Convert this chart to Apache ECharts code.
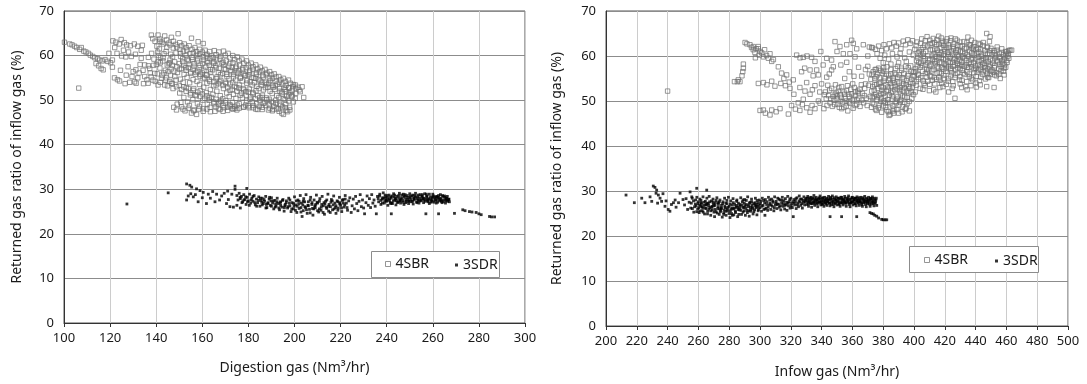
<!DOCTYPE html>
<html><head><meta charset="utf-8">
<script src="https://cdn.jsdelivr.net/npm/echarts@6/dist/echarts.min.js"></script>
<style>html,body{margin:0;padding:0;background:#fff}#c{width:1087px;height:384px}</style>
</head><body><div id="c"></div>
<script>
// ---- data ----
const seriesNames = ['4SBR', '3SDR'];
const leftXTitle = 'Digestion gas (Nm³/hr)';
const rightXTitle = 'Infow gas (Nm³/hr)';
const yTitle = 'Returned gas ratio of inflow gas (%)';
const leftXTicks = [100, 300, 20];
const rightXTicks = [200, 500, 20];
const yTicks = [0, 70, 10];

const sbrDigestion = [
[100.2,63.0],[102.5,62.6],[103.5,62.4],[104.6,62.1],[105.5,61.8],[106.8,61.4],[107.5,61.8],[108.6,61.0],[109.5,60.8],[110.6,60.5],[111.4,60.1],[112.5,59.8],[113.4,59.5],[114.6,59.3],[115.5,59.0],[116.6,58.8],[117.8,59.1],[118.9,58.7],[120.2,58.4],[121.0,59.0],[113.9,58.2],[115.0,57.7],[116.1,57.1],[117.0,56.8],[121.9,55.0],[123.2,54.6],[124.1,54.3],[106.4,52.7],
[121.2,63.3],[122.5,63.0],[124.8,63.6],[124.0,62.6],[126.2,62.9],[127.2,62.4],[128.8,62.2],[130.5,62.6],[132.0,62.1],[134.0,62.3],[123.0,60.5],[125.0,59.9],[126.8,59.7],[129.2,59.8],[127.8,57.5],[130.0,56.4],[131.2,56.8],[132.6,56.1],[130.6,54.1],[131.3,53.8],[133.5,61.2],[133.5,59.4],[135.0,57.9],[135.0,55.3],[136.5,53.8],[137.2,57.1],[138.6,54.5],[139.4,56.0],[140.8,58.6],[140.8,53.4],[142.3,54.9],[143.7,53.4],[145.2,56.4],[146.6,53.8],[148.1,55.3],[136.6,59.6],[136.6,57.7],[137.4,56.1],[139.6,54.2],[141.8,58.4],[142.6,55.6],[144.0,56.7],[144.0,54.5],[147.0,53.7],[148.6,54.5],[138.0,60.5],[139.0,59.2],[141.0,60.0],[143.0,59.5],[145.5,58.2],[146.5,57.0],[134.5,53.7],[128.5,54.0],[126.5,53.7],
[119.5,60.5],[122.0,61.8],[125.8,61.2],[128.0,60.8],[131.0,60.3],[133.0,58.0],[134.3,56.7],[129.5,55.3],[132.0,55.0],[136.0,54.6],[137.8,55.2],[138.8,57.8],[127.0,55.6],[124.5,56.7],[121.0,57.4],
[137.9,64.6],[138.5,63.8],[139.5,63.2],[140.8,64.6],[141.5,63.7],[142.5,63.0],[143.7,64.4],[144.5,63.5],[145.5,62.8],[146.6,64.1],[147.5,63.2],[148.5,62.5],[149.5,64.9],[150.2,62.9],[151.0,62.2],[152.2,62.6],[153.0,61.8],[154.3,62.2],[155.3,63.9],[155.5,61.4],[156.8,61.8],[157.5,60.9],[158.2,63.1],[158.8,61.4],[160.0,60.8],[160.4,62.7],[161.2,61.2],[162.0,60.3],[163.2,60.9],[164.0,59.9],[165.2,61.1],[166.0,60.2],[167.2,60.8],[168.0,59.8],[169.2,61.0],[170.0,60.1],[171.2,60.5],[172.0,59.5],[173.2,60.0],[174.0,59.1],[175.2,59.7],[176.0,58.8],[177.2,59.2],[178.0,58.3],[179.2,58.8],[180.0,57.9],[181.2,58.3],[182.0,57.5],[183.2,57.9],[184.0,57.0],[185.2,57.4],[186.0,56.6],[187.2,56.9],[188.0,56.1],[189.2,56.4],[190.0,55.7],[191.2,55.9],[192.0,55.2],[193.2,55.3],[194.0,54.6],[195.2,54.9],[196.0,54.2],[197.4,54.5],[198.2,53.8],[199.5,53.5],[200.4,53.4],[201.5,52.9],[203.3,53.0],[204.0,50.6],[197.4,52.7],[198.8,50.8],[195.9,50.1],[202.0,52.3],
[150.5,60.5],[151.5,59.3],[153.0,60.0],[154.0,58.8],[155.5,59.6],[156.5,58.2],[158.0,59.3],[159.0,57.8],[160.5,59.0],[161.5,57.4],[162.5,58.4],[163.5,56.9],[165.0,58.6],[166.0,57.3],[167.0,56.2],[168.5,58.3],[169.5,57.0],[170.5,55.8],[171.5,57.6],[172.5,56.4],[173.5,55.2],[174.5,57.2],[175.5,56.0],[176.5,54.9],[177.5,56.8],[178.5,55.6],[179.5,54.4],[180.5,56.3],[181.5,55.1],[182.5,53.9],[183.5,55.8],[184.5,54.6],[185.5,53.4],[186.5,55.2],[187.5,54.0],[188.5,52.9],[189.5,54.4],[190.5,53.3],[191.5,52.4],[192.5,53.6],[193.5,52.6],[194.5,51.8],[195.5,52.9],[196.5,51.9],[197.5,51.2],[199.0,52.2],[200.5,51.5],
[146.0,59.0],[147.0,57.8],[148.0,58.6],[149.0,57.5],[150.0,58.2],[151.0,57.1],[152.0,57.8],[153.0,56.7],[154.0,57.3],[155.0,56.3],[156.0,56.9],[157.0,55.8],[158.0,56.5],[159.0,55.4],[160.0,56.1],[161.0,55.0],[162.0,55.7],[163.0,54.6],[164.0,55.2],[165.0,54.1],[166.0,54.8],[167.0,53.7],[168.0,54.4],[169.0,53.3],[170.0,54.0],[171.0,52.9],[172.0,53.6],[173.0,52.4],[174.0,53.1],[175.0,52.0],[176.0,52.7],[177.0,51.6],[178.0,52.3],[179.0,51.1],[180.0,51.8],[181.0,50.7],[182.0,51.4],[183.0,50.3],[184.0,51.0],[185.0,49.9],[186.0,50.6],[187.0,49.4],[188.0,50.1],[189.0,49.0],[190.0,49.7],[191.0,48.6],[192.0,49.3],[193.0,48.1],[194.0,48.8],[195.2,46.8],[194.5,47.1],[196.0,48.3],[197.0,47.4],[198.0,47.8],[188.7,47.8],[190.5,47.9],
[150.0,53.3],[151.0,52.4],[152.0,53.0],[153.0,52.0],[154.0,52.6],[155.0,51.6],[156.0,52.2],[157.0,51.2],[158.0,51.8],[159.0,50.8],[160.0,51.4],[161.0,50.4],[162.0,51.0],[163.0,50.0],[164.0,50.6],[165.0,49.6],[166.0,50.2],[167.0,49.2],[168.0,49.8],[169.0,48.8],[170.0,49.4],[171.0,48.4],[172.0,49.0],[173.0,48.1],[174.0,48.6],[175.0,47.8],[176.0,48.2],[178.0,48.5],[148.8,47.8],[151.0,48.5],[152.5,47.6],[154.0,48.2],[155.3,47.1],[156.5,47.8],[157.5,46.8],[158.5,48.0],[160.4,47.5],[162.0,48.0],[163.5,47.4],[165.5,47.5],[167.0,48.1],[169.0,47.5],[171.0,47.7],[174.2,48.2],[180.0,48.7],[182.0,48.3],[184.0,47.9],[186.0,48.4]
];
const sbrDigestionCore = [
[140.3,62.1],[140.6,60.8],[140.1,58.0],[140.5,55.9],[141.7,63.2],[141.4,61.5],[141.9,59.6],[141.6,57.2],[141.8,54.0],[143.1,62.6],[143.4,60.4],[142.9,58.8],[143.3,56.1],[144.6,61.9],[144.3,60.9],[144.8,57.9],[144.5,55.0],[144.9,53.2],[146.0,62.4],[146.3,60.3],[145.8,58.4],[146.2,55.6],[145.9,54.2],[147.4,61.7],[147.1,59.7],[147.7,56.5],[147.3,52.6],[147.6,48.4],[148.9,61.9],[148.6,60.6],[149.2,56.2],[148.8,53.0],[149.1,49.1],
[150.3,61.4],[150.6,59.8],[150.1,56.9],[150.5,54.7],[150.2,51.6],[150.7,49.5],[151.8,61.0],[151.5,58.6],[152.1,55.8],[151.7,54.0],[152.0,50.6],[151.6,48.0],[153.2,61.2],[153.5,59.2],[152.9,57.3],[153.4,55.1],[153.1,52.8],[153.6,49.6],[154.6,60.4],[154.3,58.0],[154.9,56.0],[154.5,53.9],[154.8,51.2],[154.4,48.8],
[156.1,60.6],[155.8,59.1],[156.4,57.6],[156.0,54.6],[156.3,52.6],[155.9,50.1],[156.2,47.6],[157.5,60.1],[157.8,58.8],[157.3,56.2],[157.7,54.2],[157.4,51.0],[157.9,49.2],[158.9,60.3],[158.6,57.3],[159.2,55.8],[158.8,53.5],[159.1,52.1],[158.7,48.6],
[160.4,59.7],[160.1,58.2],[160.7,56.7],[160.3,54.8],[160.6,52.9],[160.2,50.0],[160.5,48.1],[161.8,59.9],[162.1,58.7],[161.6,55.6],[162.0,53.8],[161.7,51.7],[162.2,49.1],[163.3,59.3],[163.0,57.8],[163.6,56.3],[163.2,54.2],[163.5,52.4],[163.1,50.6],[163.4,48.4],
[164.7,59.5],[165.0,58.3],[164.5,56.8],[164.9,53.2],[164.6,51.3],[165.1,49.2],[166.1,59.0],[165.8,57.7],[166.4,55.2],[166.0,53.4],[166.3,52.0],[165.9,48.5],[167.6,59.2],[167.3,57.1],[167.9,55.7],[167.5,54.1],[167.8,51.0],[167.4,49.6],[167.7,47.9],
[169.0,58.5],[169.3,57.9],[168.8,56.0],[169.2,52.6],[168.9,50.3],[169.4,48.3],[170.4,58.8],[170.1,56.9],[170.7,55.3],[170.3,53.7],[170.6,51.6],[170.2,49.9],[171.9,58.2],[172.2,56.7],[171.6,54.8],[172.0,52.2],[171.7,50.8],[172.1,48.7],
[173.3,58.4],[173.0,57.3],[173.6,55.8],[173.2,53.9],[173.5,51.3],[173.1,49.5],[173.4,48.0],[174.7,57.6],[175.0,56.3],[174.5,54.5],[174.9,52.8],[174.6,50.4],[175.1,48.9],[176.2,57.9],[175.9,56.6],[176.5,55.2],[176.1,53.4],[176.4,51.1],[176.0,49.2],
[177.6,57.2],[177.9,55.9],[177.3,54.3],[177.7,52.6],[177.4,50.5],[177.8,48.4],[179.0,57.3],[178.7,55.5],[179.3,53.8],[178.9,51.9],[179.2,49.8],[178.8,48.9],[180.5,56.6],[180.2,55.7],[180.8,54.1],[180.4,52.5],[180.7,50.2],[180.3,48.3],
[181.9,56.9],[182.2,55.0],[181.6,53.4],[182.0,51.7],[181.7,49.6],[182.1,48.8],[183.4,56.2],[183.1,54.9],[183.7,53.1],[183.3,52.1],[183.6,49.2],[183.2,48.0],[184.8,56.3],[185.1,54.3],[184.6,52.6],[185.0,50.6],[184.7,48.6],
[186.2,55.6],[185.9,54.0],[186.5,52.3],[186.1,51.1],[186.4,49.3],[186.0,47.9],[187.7,55.7],[188.0,53.5],[187.4,52.8],[187.8,50.5],[187.5,48.8],[189.1,55.0],[188.8,53.8],[189.4,52.0],[189.0,50.2],[189.3,48.2],
[190.5,54.9],[190.8,52.9],[190.3,51.5],[190.7,49.4],[190.4,47.6],[192.0,54.3],[191.7,53.2],[192.3,51.0],[191.9,50.0],[192.2,48.0],[193.4,54.0],[193.7,52.0],[193.2,50.6],[193.6,49.1],[193.3,47.5],
[194.9,53.6],[194.6,51.4],[195.2,50.3],[194.8,48.5],[196.3,53.3],[196.0,52.4],[196.6,50.9],[196.2,49.0],[196.5,47.7],[197.7,52.8],[198.0,51.6],[197.5,49.8],[197.9,48.4],[199.2,53.0],[198.9,51.0],[199.5,49.6],[200.6,52.6],[200.3,50.4],[202.5,51.9]
];

const sdrDigestion = [
[127.3,26.7],[145.2,29.2],[153.2,31.2],[154.6,30.9],[155.4,30.5],[157.5,30.1],[159.0,29.7],[160.4,29.3],[162.6,28.9],[153.9,28.5],[153.2,27.6],[156.1,28.3],[158.2,27.2],[161.8,26.8],[165.5,27.2],[174.2,30.7],[179.3,30.2],[174.2,30.0],[166.2,28.9],[168.4,28.5],[171.3,27.7],[173.5,26.0],[172.0,26.1],[155.0,29.0],[157.0,28.8],[160.0,28.1],[163.5,28.0],[164.5,29.5],[167.5,27.6],[169.5,29.1],[170.5,26.8],[172.8,28.9],[175.0,26.4],[176.5,25.8],[171.0,29.6],
[175,28.6],[175.5,27.6],[176,29.1],[176.5,27.9],[177,28.4],[177.5,27.2],[178,28.8],[178.5,27.7],[179,26.6],[179.5,28.2],[180,27.4],[180.5,28.9],[181,26.9],[181.5,28.0],[182,27.3],[182.5,28.6],[183,26.5],[183.5,27.8],[184,27.0],[184.5,28.3],[185,26.2],[185.5,27.5],[186,28.0],[186.5,26.8],[187,27.3],[187.5,28.4],[188,25.9],[188.5,27.0],[189,27.8],[189.5,26.4],[190,28.1],[190.5,26.9],[191,25.6],[191.5,27.5],[192,26.2],[192.5,28.0],[193,26.8],[193.5,25.4],[194,27.2],[194.5,26.0],[195,27.7],[195.5,25.1],[196,26.6],[196.5,27.4],[197,25.8],[197.5,28.0],[198,26.3],[198.5,25.0],[199,27.0],[199.5,25.6],
[200,28.3],[200.5,26.5],[201,24.8],[201.5,27.6],[202,25.7],[202.5,28.6],[203,26.9],[203.3,23.9],[203.8,25.2],[204,27.9],[204.5,26.1],[205,28.8],[205.5,24.6],[206,27.2],[206.5,25.5],[207,28.2],[207.5,26.6],[208,24.2],[208.5,27.6],[209,25.9],[209.5,28.7],[210,26.9],[210.5,24.9],[211,27.9],[211.5,25.3],[212,28.4],[212.5,26.3],[213,24.4],[213.5,27.3],[214,25.7],[214.5,28.9],[215,26.6],[215.5,24.8],[216,27.7],[216.5,25.4],[217,28.5],[217.5,26.9],[218,24.6],[218.5,27.4],[219,25.8],[219.5,28.2],[220,26.4],[220.5,25.0],[221,27.7],[221.5,26.0],[222,28.6],[222.5,26.9],[223,25.3],[223.5,27.4],[224,28.1],
[185.8,27.1],[187.8,26.6],[189.8,27.4],[191.8,26.7],[193.8,27.0],[195.8,26.3],[197.8,26.9],[199.8,26.2],[201.8,26.7],[203.8,27.3],[205.8,26.4],[207.8,25.7],[209.8,27.1],[211.8,26.6],[213.8,26.0],[215.8,27.1],[217.8,25.9],[219.8,27.0],[221.8,26.5],[204.8,25.9],[206.8,27.6],[208.8,26.3],[210.8,25.6],[212.8,27.0],[214.8,26.2],[216.8,26.5],[218.8,25.3],[220.8,27.5],[202.8,25.9],[200.8,27.4],
[224.6,24.8],[225,26.3],[225.5,27.8],[226,25.6],[226.5,28.4],[227,26.8],[227.5,25.2],[228,27.3],[228.5,28.8],[229,26.1],[229.5,27.6],[230,25.8],[230.4,24.5],[231,27.0],[231.5,28.5],[232,26.4],[232.5,27.9],[233,25.9],[233.5,28.8],[234,26.9],[234.5,27.6],[235,26.2],[235.5,24.5],[236,28.4],
[236.5,27.2],[237,28.9],[237.5,26.6],[238,27.8],[238.5,29.2],[239,26.9],[239.5,28.3],[240,27.5],[240.5,26.4],[241,28.7],[241.5,27.1],[242,24.5],[242,28.0],[242.5,26.8],[243,29.0],[243.5,27.6],[244,26.5],[244.5,28.4],[245,27.2],[245.5,29.1],[246,26.9],[246.5,28.1],[247,27.5],[247.5,26.6],[248,28.8],[248.5,27.3],[249,28.2],[249.5,26.8],[250,29.0],[250.5,27.7],[251,28.5],[251.5,26.7],[252,27.9],[252.5,29.1],[253,27.2],[253.5,28.3],[254,26.9],[254.5,28.8],[255,27.6],[255.5,28.2],[256,27.0],[256.5,29.0],[257,24.5],[257,27.8],[257.5,28.5],[258,27.2],[258.5,26.8],[259,28.3],[259.5,27.6],[260,28.9],[260.5,27.1],[261,28.1],[261.5,26.9],[262,27.7],[262.5,24.5],[262.5,28.6],[263,27.4],[263.5,28.0],[264,27.0],[264.5,28.4],[265,27.6],[265.5,26.9],[266,28.0],[266.5,27.3],[267,27.8],[267.2,27.2],
[238.2,28.1],[239.2,27.4],[240.2,28.6],[241.2,27.8],[242.2,26.9],[243.2,28.3],[244.2,27.4],[245.2,28.6],[246.2,27.8],[247.2,28.9],[248.2,27.0],[249.2,27.8],[250.2,28.4],[251.2,27.3],[252.2,28.6],[253.2,27.9],[254.2,27.4],[255.2,28.5],[256.2,27.6],[257.2,28.9],[258.2,27.9],[259.2,27.1],[260.2,28.3],[261.2,27.5],[262.2,28.2],[263.2,27.7],[264.2,28.6],[265.2,28.2],[266.2,27.6],[239.7,27.9],[241.7,28.3],[243.7,27.9],[245.7,27.5],[247.7,28.2],[249.7,27.4],[251.7,28.0],[253.7,27.6],[255.7,27.9],[257.7,27.4],[259.7,28.1],[261.7,28.4],[263.7,27.3],[265.7,27.9],
[269.4,24.6],[273,25.4],[274,25.2],[275.9,25.0],[277,24.9],[278.8,24.8],[280,24.5],[281,24.3],[284.6,23.9],[285.5,23.8],[286.8,23.8]
];
const sdrDigestionCore = [
[176.4,28.2],[177.2,27.0],[178.0,27.6],[178.8,28.3],[179.6,27.2],[180.4,26.4],[181.2,27.6],[182.0,28.4],[182.8,27.0],[183.6,26.2],[184.4,27.5],[185.2,28.0],[186.0,26.5],[186.8,27.7],[187.6,25.8],[188.4,26.8],[189.2,28.2],[190.0,26.2],[190.8,27.4],[191.6,26.0],[192.4,27.2],[193.2,25.8],[194.0,26.4],[194.8,27.5],[195.6,25.9],[196.4,27.0],[197.2,26.1],[198.0,27.6],[198.8,25.6],[199.6,26.8],[200.4,25.3],[201.2,26.2],[202.0,27.3],[202.8,24.9],[203.6,26.5],[204.4,27.2],[205.2,25.4],[206.0,26.3],[206.8,24.7],[207.6,27.0],[208.4,25.6],[209.2,26.6],[210.0,25.2],[210.8,27.3],[211.6,26.0],[212.4,24.8],[213.2,26.7],[214.0,27.6],[214.8,25.1],[215.6,26.1],[216.4,27.4],[217.2,25.6],[218.0,26.3],[218.8,27.2],[219.6,26.7],[220.4,25.8],[221.2,26.9],[222.0,27.8],[222.8,25.9],
[236.3,27.9],[236.9,28.5],[237.5,27.5],[238.1,26.9],[238.7,28.0],[239.3,28.7],[239.9,27.3],[240.5,28.1],[241.1,27.5],[241.7,26.8],[242.3,28.5],[242.9,27.4],[243.5,28.7],[244.1,27.9],[244.7,27.0],[245.3,28.0],[245.9,27.4],[246.5,28.7],[247.1,27.1],[247.7,28.5],[248.3,27.7],[248.9,28.6],[249.5,27.3],[250.1,28.1],[250.7,27.2],[251.3,28.7],[251.9,27.6],[252.5,28.3],[253.1,27.0],[253.7,28.7],[254.3,28.0],[254.9,27.4],[255.5,28.8],[256.1,28.0],[256.7,27.3],[257.3,28.3],[257.9,27.7],[258.5,28.9],[259.1,27.7],[259.7,27.3],[260.3,28.5],[260.9,27.7],[261.5,28.3],[262.1,27.1],[262.7,28.0],[263.3,28.8],[263.9,27.6],[264.5,27.2],[265.1,28.5],[265.7,27.4],[266.3,28.4],[266.9,27.7]
];

const sbrInflow = [
[240,52.2],
[285.3,54.3],[287.0,54.3],[283.4,54.3],[285.9,54.7],[288.3,55.6],[288.8,56.5],[289.2,57.3],[289.2,58.2],[290.3,63.0],[291.5,62.7],[293.5,62.5],[294.5,61.9],[295.6,62.1],[296.7,60.8],[297.5,61.6],[298.9,62.1],[300.0,61.0],[301.1,60.7],[302.2,59.8],[303.0,61.4],[304.3,60.1],[305.4,59.5],[306.5,60.5],[307.6,58.8],[308.7,59.2],[295.6,61.4],[298.9,61.6],[299.5,60.2],[297.0,59.6],[298.9,53.9],[302.2,54.1],[304.5,53.6],[307.6,54.4],[309.7,53.3],[300.0,47.9],[302.2,48.0],[303.5,47.3],[306.5,46.9],[307.6,48.0],[310.5,47.6],[313.0,48.3],[318.4,47.1],
[311.9,57.6],[314.0,56.2],[315.5,55.0],[317.3,55.8],[319.0,54.2],[321.6,54.7],[323.8,60.2],[326.0,59.6],[328.1,59.7],[330.5,60.0],[333.5,59.7],[327.0,56.5],[329.0,57.3],[332.5,56.9],[334.5,55.6],[335.7,58.8],[336.8,56.9],[337.9,55.8],[330.3,54.1],[335.7,53.4],[325.9,53.0],[329.2,52.2],[332.5,51.5],[324.8,49.6],[328.1,50.4],[330.3,48.5],[325.9,47.9],[332.5,47.5],[335.7,48.3],[337.9,50.0],[322.0,51.5],[319.5,52.8],[316.5,53.4],[313.5,53.9],[320.5,49.0],[323.0,48.2],[327.5,49.2],[333.8,49.0],[334.0,52.5],[338.8,52.0],
[343.3,59.5],[346.5,59.1],[348.7,63.2],[351.9,62.1],[356.3,62.5],[359.5,63.5],[360.6,62.8],[354.1,60.5],[358.4,60.5],[361.7,59.8],[362.8,61.6],[367.1,62.5],[356.3,58.6],[347.6,57.6],[346.5,56.9],[343.3,55.3],[345.0,56.0],[341.0,58.0],[339.5,61.0],[350.0,61.0],[352.5,58.0],[355.0,55.0],[358.0,56.5],[361.0,55.5],[364.0,57.5],[366.0,55.5],[368.5,57.0],[370.0,60.0],[372.5,61.9],[340.0,53.8],[342.5,52.0],[339.0,49.5],[341.5,48.3],[343.0,50.5],
[344.5,51.2],[345.5,49.6],[346.5,52.8],[347.6,51.0],[348.5,49.2],[349.0,53.6],[350.0,50.5],[350.8,52.2],[351.5,48.6],[352.2,51.4],[353.0,53.2],[353.8,49.8],[354.5,52.0],[355.2,50.6],[356.0,48.9],[356.8,53.4],[357.5,51.5],[358.2,49.5],[359.0,52.6],[359.8,50.2],[360.5,48.4],[361.2,53.0],[362.0,51.2],[362.8,49.3],[363.5,52.2],[364.2,50.6],[365.0,48.8],[365.8,53.6],[366.5,51.7],[367.3,49.6],[368.0,52.8],[346.0,50.5],[348.0,50.2],[352.0,50.0],[355.0,51.5],[358.0,51.0],[361.0,50.4],[364.0,51.8],[349.5,51.8],[353.0,48.3],[357.0,47.8],[369.0,50.6],[370.5,53.5],[371.5,51.0],
[341.8,51.4],[343.5,49.0],[345.2,52.4],[347.0,48.8],[348.8,51.5],[350.5,49.3],[351.2,53.0],[352.8,50.8],[354.5,48.6],[356.2,52.3],[357.8,49.8],[359.5,51.6],[360.2,53.8],[361.8,49.0],[363.0,50.2],[364.8,52.6],[366.2,50.2],[367.8,51.2],[369.6,49.0],[344.0,53.5],[350.0,51.2],[356.0,50.0],[362.0,52.0],[368.5,53.8],
[372.0,54.8],[372.5,52.2],[373.0,49.6],[373.5,56.5],[374.0,51.0],[374.5,53.6],[375.0,48.2],[375.5,55.4],[376.0,50.3],[376.5,52.8],[377.0,57.3],[377.5,49.1],[378.0,54.1],[378.5,51.6],[379.0,47.5],[379.5,56.2],[380.0,53.0],[380.5,50.0],[381.0,55.0],[381.5,48.6],[382.0,52.2],[382.5,57.6],[383.0,49.7],[383.5,54.6],[384.0,51.3],[384.5,47.0],[385.0,56.0],[385.5,53.3],[386.0,50.4],[386.5,55.1],[387.0,48.2],[387.5,52.5],[388.0,57.2],[388.5,49.6],[389.0,54.3],[389.5,51.0],[390.0,47.3],[390.5,55.8],[391.0,53.0],[391.5,50.2],[392.0,56.8],[392.5,48.7],[393.0,52.2],[393.5,54.9],[394.0,50.9],[394.5,57.7],[395.0,53.6],[395.5,49.4],[396.0,55.6],[396.5,51.8],[397.0,47.8],[397.5,54.2],[398.0,56.6],[398.5,50.6],[399.0,53.1],[399.5,55.4],[373.2,53.2],[375.2,51.5],[377.2,53.9],[379.2,52.4],[381.2,51.0],[383.2,53.1],[385.2,51.8],[387.2,54.0],[389.2,52.7],[391.2,51.6],[393.2,53.8],[395.2,52.2],[397.2,52.8],[376.3,55.8],[380.3,56.6],[384.3,55.0],[388.3,55.9],[392.3,55.2],[396.3,57.4],[378.3,49.9],[382.3,48.0],[386.3,48.9],[390.3,49.1],[394.3,48.2],[374.8,57.0],[371.0,56.0],[370.0,57.7],[383.8,46.8],[386.8,47.3],
[372.7,55.9],[372.9,50.8],[372.4,48.6],[374.2,52.4],[374.5,55.0],[374.0,49.3],[375.7,53.7],[375.4,57.0],[375.9,50.9],[375.6,47.9],[377.2,51.2],[377.5,55.2],[376.9,48.5],[378.7,53.2],[378.4,56.8],[378.9,50.6],[380.2,51.7],[380.5,54.4],[379.9,48.9],[380.3,57.4],[381.7,53.6],[381.4,49.6],[382.0,56.0],[383.2,52.4],[383.5,55.7],[382.9,50.3],[383.3,47.6],[384.7,53.9],[384.4,49.4],[384.9,57.0],[386.2,52.1],[386.5,54.6],[385.9,51.0],[386.3,47.8],[387.7,53.2],[387.4,56.2],[387.9,49.9],[389.2,50.4],[389.5,55.3],[388.9,48.1],[389.3,57.7],[390.7,52.3],[390.4,54.0],[390.9,49.8],[392.2,53.5],[392.5,51.1],[391.9,57.3],[392.3,47.6],[393.7,52.9],[393.4,56.1],[393.9,49.7],[395.2,54.5],[395.5,50.8],[394.9,48.4],[396.7,53.2],[396.4,56.0],[396.9,49.9],[398.2,52.0],[398.5,54.8],[397.9,57.8],[399.7,51.4],[399.4,53.9],[399.8,56.5],
[371.0,62.0],[373.0,61.8],[375.0,61.5],[377.0,62.2],[379.0,61.2],[380.5,62.5],[382.0,61.6],[384.0,62.7],[385.5,61.8],[387.0,63.0],[388.5,62.2],[390.0,62.9],[391.5,61.6],[393.0,63.3],[394.5,62.5],[396.0,63.6],[397.5,62.8],[399.0,63.4],[376.0,60.5],[378.0,59.5],[381.0,60.2],[383.5,59.3],[386.0,60.5],[389.0,59.8],[391.0,60.6],[394.0,59.6],[397.0,60.9],[399.5,60.2],[380.0,58.5],[385.0,58.2],[390.0,58.5],[395.0,58.8]
];
const sbrInflowCore = [
[400.5,61.5],[401.0,57.2],[401.5,54.3],[402.0,63.1],[402.5,59.6],[403.0,55.8],[403.5,61.0],[404.0,52.8],[404.5,58.4],[405.0,63.8],[405.5,56.6],[406.0,60.6],[406.5,53.9],[407.0,62.4],[407.5,58.1],[408.0,55.3],[408.5,64.3],[409.0,60.0],[409.5,56.9],[410.0,52.3],[410.5,62.7],[400.2,55.6],[402.2,57.8],[404.2,60.2],[406.2,58.9],[408.2,57.0],[410.2,59.2],
[411.0,58.1],[411.5,55.4],[412.0,61.3],[412.5,63.9],[413.0,57.0],[413.5,53.8],[414.0,59.9],[414.5,62.5],[415.0,56.2],[415.5,60.8],[416.0,64.4],[416.5,58.6],[417.0,54.6],[417.5,61.9],[418.0,57.5],[418.5,63.3],[419.0,59.4],[419.5,55.7],[420.0,61.0],[411.8,60.0],[413.8,58.3],[415.8,57.3],[417.8,59.7],[419.8,58.2],[412.8,52.5],[416.8,53.0],
[421.0,57.3],[421.5,63.8],[422.0,59.9],[422.5,55.0],[423.0,61.9],[423.5,58.5],[424.0,64.0],[424.5,56.3],[425.0,60.4],[425.5,53.4],[426.0,62.7],[426.5,58.0],[427.0,55.8],[427.5,61.3],[428.0,63.5],[428.5,57.4],[429.0,59.8],[429.5,54.7],[430.0,62.2],[421.8,60.8],[423.8,57.2],[425.8,59.2],[427.8,58.9],[429.8,57.9],[426.6,50.6],[422.5,52.0],
[431.0,58.6],[431.5,60.9],[432.0,56.2],[432.5,63.2],[433.0,59.4],[433.5,53.2],[434.0,61.8],[434.5,57.5],[435.0,64.2],[435.5,59.9],[436.0,55.4],[436.5,62.4],[437.0,58.2],[437.5,60.7],[438.0,54.7],[438.5,61.5],[439.0,57.0],[439.5,63.0],[440.0,59.3],[431.8,60.0],[433.8,58.0],[435.8,58.6],[437.8,59.6],[439.8,57.8],[434.5,52.5],
[441.0,56.4],[441.5,61.6],[442.0,58.8],[442.5,54.5],[443.0,62.6],[443.5,57.6],[444.0,60.2],[444.5,55.9],[445.0,63.0],[445.5,58.4],[446.0,61.2],[446.5,56.7],[447.0,59.6],[447.2,65.0],[447.2,53.2],[447.5,62.0],[448.0,57.2],[448.5,55.2],[449.0,60.6],[449.4,64.3],[449.0,63.2],[449.5,58.0],[450.0,61.7],[441.8,59.8],[443.8,59.0],[445.8,57.8],[447.8,60.4],[449.8,56.6],[443.0,53.6],
[451.0,59.0],[451.5,56.4],[452.0,61.2],[452.5,57.8],[453.0,60.1],[453.5,55.6],[454.0,62.0],[454.5,58.7],[455.0,57.1],[455.5,60.6],[456.0,59.4],[456.5,56.7],[457.0,61.6],[457.5,58.2],[458.0,60.3],[458.5,57.3],[459.0,59.6],[459.5,61.0],[460.2,60.9],[460.5,58.6],[461.0,60.0],[461.5,61.2],[462.3,61.3],[463.4,61.3],[452.0,53.0],[456.0,55.0],[458.5,55.8],
[400.8,52.0],[405.8,52.6],[414.2,52.0],[418.8,53.2],[424.8,52.8],[431.0,53.0],[437.0,53.4],[440.5,53.1],
[401.3,62.3],[401.6,59.0],[401.1,56.5],[401.4,53.5],[402.8,60.7],[403.1,58.6],[402.6,56.0],[402.9,54.8],[404.3,62.8],[404.6,61.4],[404.1,57.5],[404.4,55.2],[405.8,61.9],[406.1,59.9],[405.6,57.9],[405.9,54.5],[407.3,63.4],[407.6,61.0],[407.1,59.4],[407.4,56.1],[407.2,53.4],[408.8,62.2],[409.1,58.5],[408.6,56.4],[408.9,54.4],[410.3,63.5],[410.6,61.4],[410.1,57.8],[410.4,55.6],[410.2,53.7],[411.8,62.8],[412.1,59.2],[411.6,56.7],[411.9,54.6],
[413.3,63.0],[413.6,61.6],[413.1,60.5],[413.4,58.7],[413.2,55.2],[414.8,63.6],[415.1,61.3],[414.6,58.9],[414.9,57.6],[414.7,54.8],[416.3,62.6],[416.6,60.3],[416.1,59.6],[416.4,56.4],[416.2,55.2],[417.8,64.0],[418.1,62.9],[417.6,60.7],[417.9,58.4],[417.7,56.1],[418.0,53.9],[419.3,62.4],[419.6,61.5],[419.1,60.2],[419.4,57.1],[419.2,55.0],
[420.8,63.2],[421.1,61.9],[420.6,59.3],[420.9,58.0],[420.7,56.6],[421.0,53.7],[422.3,62.5],[422.6,60.4],[422.1,58.7],[422.4,57.6],[422.2,54.4],[423.8,63.4],[424.1,61.1],[423.6,59.8],[423.9,56.9],[423.7,55.6],[425.3,62.1],[425.6,61.6],[425.1,58.6],[425.4,57.7],[425.2,54.3],[426.8,63.8],[427.1,60.8],[426.6,59.5],[426.9,57.0],[426.7,55.2],[428.3,62.4],[428.6,61.3],[428.1,60.1],[428.4,58.3],[428.2,56.2],[429.8,63.1],[430.1,61.0],[429.6,59.1],[429.9,57.2],[429.7,55.4],[430.0,53.8],
[431.3,62.2],[431.6,59.7],[431.1,58.0],[431.4,56.8],[431.2,54.6],[432.8,61.6],[433.1,60.6],[432.6,57.7],[432.9,55.9],[434.3,63.0],[434.6,60.3],[434.1,59.0],[434.4,56.5],[434.2,54.3],[435.8,62.5],[436.1,61.1],[435.6,57.4],[435.9,56.0],[437.3,63.5],[437.6,61.8],[437.1,59.2],[437.4,57.6],[437.2,55.1],[438.8,62.1],[439.1,60.2],[438.6,58.5],[438.9,56.3],[440.3,61.4],[440.6,60.6],[440.1,57.3],[440.4,55.5],[440.2,54.0],
[441.8,62.8],[442.1,60.9],[441.6,58.1],[441.9,56.9],[443.3,61.5],[443.6,59.9],[443.1,57.0],[443.4,55.3],[444.8,62.3],[445.1,59.5],[444.6,58.2],[444.9,56.5],[446.3,60.6],[446.6,59.1],[446.1,57.4],[446.4,54.9],[447.8,61.9],[448.1,58.8],[447.6,56.1],[447.9,55.3],[449.3,61.2],[449.6,59.3],[449.1,57.6],[449.4,55.9],[450.8,60.3],[451.1,58.4],[450.6,56.9],
[452.3,60.7],[452.6,59.6],[452.1,57.4],[452.4,55.8],[453.8,61.3],[454.1,59.0],[453.6,56.3],[455.3,59.8],[455.6,58.2],[455.1,56.0],[456.8,60.8],[457.1,58.9],[456.6,57.6],[458.3,59.2],[458.6,58.0],[458.1,56.6],[459.8,60.4],[460.1,59.0],[459.6,57.5],[461.3,60.6],[461.6,59.5]
];

const sdrInflow = [
[213.0,29.1],[218.4,27.4],[223.2,28.4],[225.3,27.4],[228.6,28.7],[229.7,27.7],[230.7,31.1],[231.8,30.8],[232.9,30.2],[232.5,29.5],[234.0,29.1],[235.1,28.4],[236.1,27.7],[238.3,26.6],[240.4,25.9],[241.5,25.5],[233.5,27.3],[237.0,29.4],[239.0,27.8],[242.5,27.0],[244.9,28.0],[243.8,27.4],[247.1,27.4],[248.1,29.5],[254.6,29.8],[258.9,30.6],[265.4,30.2],[255.7,28.7],[245.5,26.4],[250.0,28.1],
[251.0,26.9],[252.0,28.3],[253.0,25.9],[254.0,27.5],[255.0,26.2],[256.0,28.4],[257.0,25.3],[258.0,27.1],[259.0,28.6],[259.5,26.0],[260.0,27.6],[260.5,25.2],[261.0,28.2],[261.5,26.6],[262.0,27.4],[262.5,25.6],[263.0,28.7],[263.5,26.8],[264.0,24.9],[264.5,27.7],[265.0,26.1],[265.5,28.4],[266.0,25.5],[266.5,27.2],[267.0,28.8],[267.5,26.3],[268.0,24.6],[268.5,27.8],[269.0,25.8],[269.5,28.2],[270.0,26.7],[270.5,24.3],[271.0,27.4],[271.5,25.4],[272.0,28.5],[272.5,26.1],[273.0,27.1],[273.5,24.8],[274.0,28.0],[274.5,25.7],[275.0,26.8],[275.5,24.2],[276.0,27.6],[276.5,25.2],[277.0,28.4],[277.5,26.3],[278.0,24.6],[278.5,27.2],[279.0,25.6],[279.5,28.6],[280.0,26.6],[280.5,24.1],[281.0,27.8],[281.5,25.0],[282.0,26.2],[282.5,28.3],[283.0,24.7],[283.5,27.0],[284.0,25.5],[284.5,26.4],[285.0,28.0],[285.5,24.3],[286.0,27.3],[286.5,25.8],[287.0,26.7],[287.5,28.5],[288.0,24.8],[288.5,27.6],[289.0,25.3],[289.5,26.3],[290.0,28.1],[290.5,24.6],[291.0,27.0],[291.5,25.7],[292.0,28.7],[292.5,26.5],[293.0,24.4],[293.5,27.5],[294.0,25.5],[294.5,28.2],[295.0,26.4],[295.5,24.9],[296.0,27.2],[296.5,25.8],[297.0,28.4],[297.5,26.6],[298.0,24.7],[298.5,27.4],[299.0,25.9],[299.5,28.0],
[258.5,26.7],[260.8,26.9],[262.8,26.2],[264.8,26.9],[266.8,26.0],[268.8,26.6],[270.8,25.9],[272.8,27.4],[274.8,26.3],[276.8,25.8],[278.8,26.0],[280.8,25.6],[282.8,26.0],[284.8,26.8],[286.8,26.2],[288.8,26.4],[290.8,26.2],[292.8,25.6],[294.8,26.9],[296.8,26.8],[298.8,26.5],[261.8,27.2],[265.8,27.3],[269.8,27.1],[273.8,26.0],[277.8,27.3],[281.8,26.9],[285.8,25.9],[289.8,27.3],[293.8,26.4],[297.8,27.0],
[300.0,26.3],[300.5,27.7],[301.0,25.5],[301.5,28.4],[302.0,26.8],[302.5,25.9],[303.2,24.6],[303.0,27.4],[303.5,28.1],[304.0,26.2],[304.5,27.6],[305.0,25.7],[305.5,28.6],[306.0,26.9],[306.5,27.3],[307.0,25.9],[307.5,28.2],[308.0,26.6],[308.5,27.5],[309.0,25.6],[309.5,28.7],[310.0,26.9],[310.5,27.7],[311.0,26.1],[311.5,28.4],[312.0,27.1],[312.5,26.4],[313.0,28.0],[313.5,25.8],[314.0,27.3],[314.5,28.6],[315.0,26.6],[315.5,27.8],[316.0,26.0],[316.5,28.3],[317.0,27.0],[317.5,25.7],[318.0,28.8],[318.5,26.7],[319.0,27.6],[319.5,26.2],[320.0,28.4],[320.5,27.2],[321.0,26.3],[321.6,24.3],[322.0,28.1],[322.5,26.9],[323.0,27.7],[323.5,26.1],[324.0,28.5],[324.5,27.3],[325.0,26.5],[325.5,28.9],[326.0,27.5],[326.5,26.8],[327.0,28.2],[327.5,26.2],[328.0,27.9],[328.5,28.7],[329.0,26.9],[329.5,27.6],[330.0,28.4],
[330.5,27.0],[331.0,28.8],[331.5,26.6],[332.0,27.8],[332.5,28.5],[333.0,27.2],[333.5,26.4],[334.0,28.2],[334.5,27.5],[335.0,29.0],[335.5,26.8],[336.0,27.9],[336.5,28.6],[337.0,27.1],[337.5,26.5],[338.0,28.3],[338.5,27.6],[339.0,28.9],[339.5,26.9],[340.0,27.8],[340.5,28.4],[341.0,27.2],[341.5,26.6],[342.0,28.6],[342.5,27.4],[343.0,28.1],[343.5,26.8],[344.0,27.9],[344.5,28.8],[345.0,27.3],[345.5,24.3],[345.5,26.7],[346.0,28.3],[346.5,27.6],[347.0,28.9],[347.5,27.0],[348.0,26.5],[348.5,28.1],[349.0,27.4],[349.5,28.7],[350.0,26.9],[350.5,27.8],[351.0,28.4],[351.5,27.2],[352.0,26.6],[352.5,28.6],[353.0,24.3],[353.0,27.5],[353.5,28.0],[354.0,26.9],[354.5,27.9],[355.0,28.8],[355.5,27.3],[356.0,26.6],[356.5,28.3],[357.0,27.6],[357.5,28.9],[358.0,27.0],[358.5,26.5],[359.0,28.2],[359.5,27.5],[360.0,28.6],[360.5,26.9],[361.0,27.8],[361.5,28.4],[362.0,27.2],[362.8,24.3],[362.5,26.7],[363.0,28.7],[363.5,27.5],[364.0,28.0],[364.5,26.8],[365.0,27.9],[365.5,28.6],[366.0,27.3],[366.5,26.6],[367.0,28.2],[367.5,27.6],[368.0,28.8],[368.5,27.0],[369.0,26.5],[369.5,28.1],[370.0,27.5],[370.5,28.6],[371.0,27.1],[371.5,26.6],[372.0,28.3],[372.5,27.6],[373.0,28.7],[373.5,27.2],[374.0,26.7],[374.5,28.0],[375.0,27.5],[375.5,28.4],[375.8,26.8],
[331.2,27.6],[333.2,27.9],[335.2,27.7],[337.2,28.0],[339.2,27.6],[341.2,27.9],[343.2,27.6],[345.2,28.0],[347.2,27.7],[349.2,27.9],[351.2,27.6],[353.2,28.2],[355.2,27.7],[357.2,28.0],[359.2,27.6],[361.2,28.1],[363.2,27.8],[365.2,27.6],[367.2,27.9],[369.2,27.7],[371.2,28.0],[373.2,27.8],
[371.4,25.2],[372.5,25.0],[373.6,24.9],[374.5,24.6],[375.8,24.4],[377.0,24.0],[379.0,23.7],[380.0,23.6],[381.2,23.6],[382.3,23.6]
];
const sdrInflowCore = [
[255.4,27.3],[256.1,26.1],[256.8,27.8],[257.5,26.5],[258.2,28.0],[258.9,25.4],[259.6,27.2],[260.3,26.3],[261.0,25.6],[261.7,27.9],[262.4,26.5],[263.1,25.3],[263.8,27.5],[264.5,26.2],[265.2,27.0],[265.9,24.9],[266.6,26.7],[267.3,27.6],[268.0,25.6],[268.7,26.4],[269.4,27.5],[270.1,25.3],[270.8,26.8],[271.5,27.9],[272.2,25.1],[272.9,26.5],[273.6,27.6],[274.3,25.4],[275.0,26.1],[275.7,27.2],[276.4,24.8],[277.1,26.6],[277.8,25.5],[278.5,27.9],[279.2,26.4],[279.9,25.0],[280.6,27.1],[281.3,26.0],[282.0,24.6],[282.7,27.4],[283.4,26.2],[284.1,25.2],[284.8,27.7],[285.5,26.4],[286.2,24.8],[286.9,27.0],[287.6,25.7],[288.3,26.9],[289.0,28.0],[289.7,25.6],[290.4,26.7],[291.1,27.9],[291.8,25.2],[292.5,26.9],[293.2,27.3],[293.9,25.9],[294.6,27.6],[295.3,26.1],[296.0,25.4],[296.7,27.4],[297.4,26.3],[298.1,27.9],[298.8,25.6],[299.5,26.9],
[300.3,27.2],[301.3,26.6],[302.3,27.9],[303.3,26.0],[304.3,27.0],[305.3,26.4],[306.3,28.0],[307.3,26.9],[308.3,27.8],[309.3,26.3],[310.3,27.3],[311.3,27.0],[312.3,28.2],[313.3,26.7],[314.3,27.9],[315.3,27.2],[316.3,26.8],[317.3,27.5],[318.3,27.3],[319.3,28.1],[320.3,26.7],[321.3,27.6],[322.3,27.3],[323.3,28.3],[324.3,26.9],[325.3,27.8],[326.3,28.2],[327.3,27.2],[328.3,27.5],[329.3,28.1],
[330.2,27.9],[330.8,28.4],[331.4,27.2],[332.0,28.2],[332.6,27.4],[333.2,28.6],[333.8,27.2],[334.4,28.4],[335.0,27.3],[335.6,28.3],[336.2,27.4],[336.8,28.1],[337.4,27.6],[338.0,27.3],[338.6,28.5],[339.2,28.2],[339.8,27.4],[340.4,27.0],[341.0,28.5],[341.6,27.6],[342.2,28.0],[342.8,27.1],[343.4,28.4],[344.0,27.5],[344.6,28.2],[345.2,27.3],[345.8,28.6],[346.4,27.0],[347.0,28.2],[347.6,27.5],[348.2,28.5],[348.8,27.2],[349.4,28.1],[350.0,27.6],[350.6,28.4],[351.2,27.0],[351.8,28.2],[352.4,27.4],[353.0,28.6],[353.6,27.3],[354.2,28.2],[354.8,27.5],[355.4,28.4],[356.0,27.3],[356.6,27.9],[357.2,28.5],[357.8,27.4],[358.4,28.1],[359.0,27.3],[359.6,28.5],[360.2,27.6],[360.8,28.2],[361.4,27.2],[362.0,28.4],[362.6,27.8],[363.2,28.3],[363.8,27.3],[364.4,28.5],[365.0,27.5],[365.6,28.2],[366.2,27.0],[366.8,28.5],[367.4,27.4],[368.0,28.1],[368.6,27.6],[369.2,28.4],[369.8,27.2],[370.4,28.0],[371.0,27.6],[371.6,28.4],[372.2,27.1],[372.8,28.2],[373.4,27.5],[374.0,28.4],[374.6,27.3],[375.2,28.0]
];

// ---- chart ----
const FONT = '"Noto Sans", "DejaVu Sans", sans-serif';
const TXT = '#1a1a1a';
const sbrStyle = {color: 'rgba(255,255,255,0)', borderColor: '#707070', borderWidth: 0.9};
const sdrStyle = {color: '#000'};

function xAxisCfg(gi, ticks, title, gap) {
  return {
    type: 'value', gridIndex: gi, min: ticks[0], max: ticks[1], interval: ticks[2],
    name: title, nameLocation: 'middle', nameGap: gap,
    nameTextStyle: {fontFamily: FONT, fontSize: 14, color: TXT},
    axisLine: {show: true, onZero: false, lineStyle: {color: '#333', width: 1}},
    axisTick: {show: true, inside: false, length: 4, lineStyle: {color: '#333'}},
    axisLabel: {fontFamily: FONT, fontSize: 13, color: TXT, margin: 9},
    splitLine: {show: true, lineStyle: {color: '#cccccc', width: 1}}
  };
}
function yAxisCfg(gi, gap) {
  return {
    type: 'value', gridIndex: gi, min: yTicks[0], max: yTicks[1], interval: yTicks[2],
    name: yTitle, nameLocation: 'middle', nameGap: gap,
    nameTextStyle: {fontFamily: FONT, fontSize: 14, color: TXT},
    axisLine: {show: true, lineStyle: {color: '#333', width: 1}},
    axisTick: {show: false},
    axisLabel: {fontFamily: FONT, fontSize: 13, color: TXT, margin: 10},
    splitLine: {show: true, lineStyle: {color: '#8c8c8c', width: 1}}
  };
}
function legendCfg(name, left, top, size, style) {
  return {
    data: [{name: name, icon: 'rect', itemStyle: style}],
    left: left, top: top, itemWidth: size, itemHeight: size, padding: 0,
    selectedMode: false,
    textStyle: {fontFamily: FONT, fontSize: 14, color: TXT}
  };
}

const chart = echarts.init(document.getElementById('c'), null, {renderer: 'canvas'});
chart.setOption({
  animation: false,
  backgroundColor: '#fff',
  grid: [
    {left: 64, top: 11, width: 461, height: 312, show: true, borderColor: '#555', borderWidth: 1, backgroundColor: 'transparent'},
    {left: 606, top: 11, width: 462, height: 315, show: true, borderColor: '#555', borderWidth: 1, backgroundColor: 'transparent'}
  ],
  xAxis: [xAxisCfg(0, leftXTicks, leftXTitle, 38), xAxisCfg(1, rightXTicks, rightXTitle, 39)],
  yAxis: [yAxisCfg(0, 40), yAxisCfg(1, 42)],
  legend: [
    legendCfg(seriesNames[0], 385, 257, 5, {color: '#fff', borderColor: '#7a7a7a', borderWidth: 1}),
    legendCfg(seriesNames[1], 455, 258, 3, {color: '#000'}),
    legendCfg(seriesNames[0], 924, 253, 5, {color: '#fff', borderColor: '#7a7a7a', borderWidth: 1}),
    legendCfg(seriesNames[1], 995, 254, 3, {color: '#000'})
  ],
  graphic: [
    {type: 'rect', z: 3, shape: {x: 371.5, y: 251.5, width: 128, height: 26}, style: {fill: '#fff', stroke: '#8c8c8c', lineWidth: 1}},
    {type: 'rect', z: 3, shape: {x: 909.5, y: 246.5, width: 129, height: 26}, style: {fill: '#fff', stroke: '#8c8c8c', lineWidth: 1}}
  ],
  series: [
    {name: seriesNames[0], type: 'scatter', xAxisIndex: 0, yAxisIndex: 0, symbol: 'rect', symbolSize: 4.4, itemStyle: sbrStyle, data: sbrDigestion.concat(sbrDigestionCore), silent: true},
    {name: seriesNames[1], type: 'scatter', xAxisIndex: 0, yAxisIndex: 0, symbol: 'rect', symbolSize: 2.8, itemStyle: sdrStyle, data: sdrDigestion.concat(sdrDigestionCore), silent: true},
    {name: seriesNames[0], type: 'scatter', xAxisIndex: 1, yAxisIndex: 1, symbol: 'rect', symbolSize: 4.4, itemStyle: sbrStyle, data: sbrInflow.concat(sbrInflowCore), silent: true},
    {name: seriesNames[1], type: 'scatter', xAxisIndex: 1, yAxisIndex: 1, symbol: 'rect', symbolSize: 2.8, itemStyle: sdrStyle, data: sdrInflow.concat(sdrInflowCore), silent: true}
  ]
});
</script></body></html>
